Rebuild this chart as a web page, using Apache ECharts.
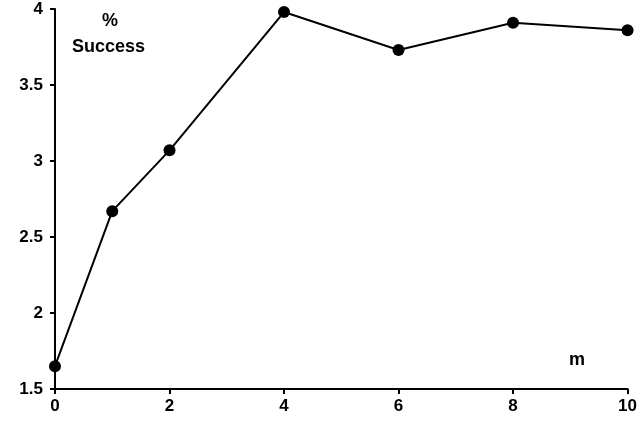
<!DOCTYPE html>
<html>
<head>
<meta charset="utf-8">
<script src="https://cdn.jsdelivr.net/npm/echarts@6/dist/echarts.min.js"></script>
<style>
  html, body { margin: 0; padding: 0; background: #fff; }
  #chart { width: 640px; height: 422px; }
</style>
</head>
<body>
<div id="chart"></div>
<script>
// data
const mValues = [0, 1, 2, 4, 6, 8, 10];
const successValues = [1.65, 2.67, 3.07, 3.98, 3.73, 3.91, 3.86];

const chart = echarts.init(document.getElementById("chart"));

const labelStyle = {
  color: "#000",
  fontFamily: "Liberation Sans, Arial, sans-serif",
  fontWeight: "bold",
  fontSize: 17
};
const noteFont = "bold 18px 'Liberation Sans', Arial, sans-serif";

const option = {
  animation: false,
  backgroundColor: "#fff",
  grid: { left: 55, right: 9, top: 9, bottom: 33 },
  xAxis: {
    type: "value",
    min: 0,
    max: 10,
    interval: 2,
    splitLine: { show: false },
    axisLine: { lineStyle: { color: "#000", width: 2 } },
    axisTick: { show: true, length: 5, lineStyle: { color: "#000", width: 2 } },
    axisLabel: { ...labelStyle, margin: 9 }
  },
  yAxis: {
    type: "value",
    min: 1.5,
    max: 4,
    interval: 0.5,
    splitLine: { show: false },
    axisLine: { show: true, lineStyle: { color: "#000", width: 2 } },
    axisTick: { show: true, length: 5, lineStyle: { color: "#000", width: 2 } },
    axisLabel: { ...labelStyle, margin: 12 }
  },
  graphic: [
    { type: "text", left: 102, top: 12, style: { text: "%", font: noteFont, fill: "#000" } },
    { type: "text", left: 72, top: 38, style: { text: "Success", font: noteFont, fill: "#000" } },
    { type: "text", left: 569, top: 351, style: { text: "m", font: noteFont, fill: "#000" } }
  ],
  series: [
    {
      type: "line",
      data: mValues.map((m, i) => [m, successValues[i]]),
      symbol: "circle",
      symbolSize: 12,
      clip: false,
      lineStyle: { color: "#000", width: 2 },
      itemStyle: { color: "#000" }
    }
  ]
};

chart.setOption(option);
</script>
</body>
</html>
